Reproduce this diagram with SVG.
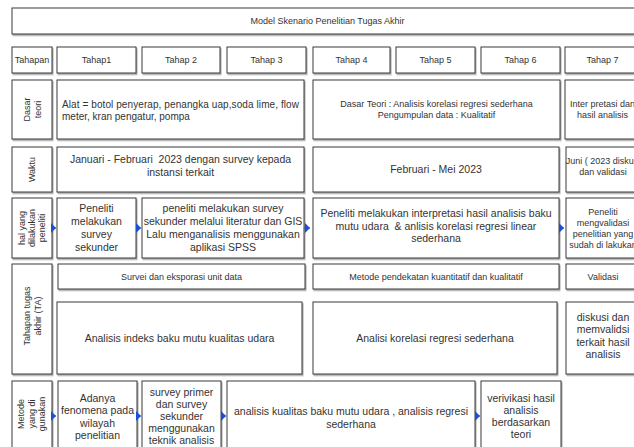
<svg xmlns="http://www.w3.org/2000/svg" width="634" height="447" viewBox="0 0 634 447">
<defs>
<filter id="sh" x="-5%" y="-5%" width="110%" height="115%">
<feDropShadow dx="1" dy="1.5" stdDeviation="0.6" flood-color="#000" flood-opacity="0.35"/>
</filter>
<marker id="ah" markerUnits="userSpaceOnUse" markerWidth="6" markerHeight="10" refX="5" refY="5" orient="auto" viewBox="0 0 6 10">
<path d="M0,0 L5,5 L0,10 Z" fill="#1a4fd6"/>
</marker>
</defs>
<style>
.b{fill:#fff;stroke:#3a3a3a;stroke-width:1;filter:url(#sh)}
text{font-family:"Liberation Sans",Arial,sans-serif;fill:#333}
.s9{font-size:9px}
.s10{font-size:10px}
.s105{font-size:10.5px}
.m{text-anchor:middle}
.c{fill:none;stroke:#1a4fd6;stroke-width:1}
</style>
<rect width="634" height="447" fill="#fff"/>

<g id="title"><rect class="b" x="12" y="8" width="631" height="26"/><text class="s9 m" x="327.5" y="24">Model Skenario Penelitian Tugas Akhir</text></g>

<g id="h-tahapan"><rect class="b" x="12" y="47" width="40" height="26"/><text class="s9 m" x="32" y="63">Tahapan</text></g>
<g id="h-tahap1"><rect class="b" x="57" y="47" width="79" height="26"/><text class="s9 m" x="96.5" y="63">Tahap1</text></g>
<g id="h-tahap2"><rect class="b" x="142" y="47" width="78" height="26"/><text class="s9 m" x="181" y="63">Tahap 2</text></g>
<g id="h-tahap3"><rect class="b" x="227" y="47" width="79" height="26"/><text class="s9 m" x="266.5" y="63">Tahap 3</text></g>
<g id="h-tahap4"><rect class="b" x="313" y="47" width="77" height="26"/><text class="s9 m" x="351.5" y="63">Tahap 4</text></g>
<g id="h-tahap5"><rect class="b" x="396" y="47" width="79" height="26"/><text class="s9 m" x="435.5" y="63">Tahap 5</text></g>
<g id="h-tahap6"><rect class="b" x="481" y="47" width="79" height="26"/><text class="s9 m" x="520.5" y="63">Tahap 6</text></g>
<g id="h-tahap7"><rect class="b" x="565" y="47" width="75" height="26"/><text class="s9 m" x="602.5" y="63">Tahap 7</text></g>

<g id="l-dasar"><rect class="b" x="12" y="80" width="40" height="59"/><text class="s9 m" transform="translate(32,109.5) rotate(-90)"><tspan x="0" y="-1.8">Dasar</tspan><tspan x="0" y="9.2">teori</tspan></text></g>
<g id="dasar-1"><rect class="b" x="57" y="80" width="247" height="59"/><text class="s10"><tspan x="62" y="107.5" textLength="237" lengthAdjust="spacing">Alat = botol penyerap, penangka uap,soda lime, flow</tspan><tspan x="62" y="119.5">meter, kran pengatur, pompa</tspan></text></g>
<g id="dasar-2"><rect class="b" x="313" y="80" width="247" height="59"/><text class="s9 m"><tspan x="436.5" y="106.5">Dasar Teori : Analisis korelasi regresi sederhana</tspan><tspan x="436.5" y="117.5">Pengumpulan data : Kualitatif</tspan></text></g>
<g id="dasar-3"><rect class="b" x="565" y="80" width="75" height="59"/><text class="s9 m"><tspan x="602.5" y="106.5">Inter pretasi dan</tspan><tspan x="602.5" y="117.5">hasil analisis</tspan></text></g>

<g id="l-waktu"><rect class="b" x="12" y="147" width="40" height="45"/><text class="s9 m" transform="translate(32,169.5) rotate(-90)"><tspan x="0" y="3.2">Waktu</tspan></text></g>
<g id="waktu-1"><rect class="b" x="57" y="147" width="247" height="45"/><text class="s105 m"><tspan x="180.5" y="163" xml:space="preserve">Januari - Februari  2023 dengan survey kepada</tspan><tspan x="180.5" y="176">instansi terkait</tspan></text></g>
<g id="waktu-2"><rect class="b" x="313" y="147" width="246" height="45"/><text class="s105 m" x="436" y="173">Februari - Mei 2023</text></g>
<g id="waktu-3"><rect class="b" x="566" y="147" width="74" height="45"/><text class="s9 m"><tspan x="603" y="164">Juni ( 2023 diskusi</tspan><tspan x="603" y="175">dan validasi</tspan></text></g>

<g id="l-hal"><rect class="b" x="12" y="198" width="40" height="60"/><text class="s9 m" transform="translate(32,228) rotate(-90)"><tspan x="0" y="-6.8">hal yang</tspan><tspan x="0" y="3.2">dilakukan</tspan><tspan x="0" y="13.2">peneliti</tspan></text></g>
<g id="hal-1"><rect class="b" x="57" y="198" width="79" height="60"/><text class="s105 m"><tspan x="96.5" y="211.5">Peneliti</tspan><tspan x="96.5" y="224.5">melakukan</tspan><tspan x="96.5" y="237.5">survey</tspan><tspan x="96.5" y="250.5">sekunder</tspan></text></g>
<g id="hal-2"><rect class="b" x="142" y="198" width="162" height="60"/><text class="s105 m"><tspan x="223" y="211.5">peneliti melakukan survey</tspan><tspan x="223" y="224.5">sekunder melalui literatur dan GIS</tspan><tspan x="223" y="237.5">Lalu menganalisis menggunakan</tspan><tspan x="223" y="250.5">aplikasi SPSS</tspan></text></g>
<g id="hal-3"><rect class="b" x="313" y="198" width="246" height="60"/><text class="s105 m"><tspan x="436" y="216.5">Peneliti melakukan interpretasi hasil analisis baku</tspan><tspan x="436" y="229.5" xml:space="preserve">mutu udara  &amp; anlisis korelasi regresi linear</tspan><tspan x="436" y="242">sederhana</tspan></text></g>
<g id="hal-4"><rect class="b" x="566" y="198" width="74" height="60"/><text class="s9 m"><tspan x="603" y="214.5">Peneliti</tspan><tspan x="603" y="225.5">mengvalidasi</tspan><tspan x="603" y="236.5">penelitian yang</tspan><tspan x="603" y="247.5">sudah di lakukan</tspan></text></g>

<g id="l-ta"><rect class="b" x="12" y="264" width="40" height="110"/><text class="s9 m" transform="translate(32,316) rotate(-90)"><tspan x="0" y="-2.5">Tahapan tugas</tspan><tspan x="0" y="8.5">akhir (TA)</tspan></text></g>
<g id="ta-s1"><rect class="b" x="58" y="264" width="247" height="25"/><text class="s9 m" x="181.5" y="280">Survei dan eksporasi unit data</text></g>
<g id="ta-s2"><rect class="b" x="313" y="264" width="246" height="25"/><text class="s9 m" x="436" y="280">Metode pendekatan kuantitatif dan kualitatif</text></g>
<g id="ta-s3"><rect class="b" x="566" y="264" width="74" height="25"/><text class="s9 m" x="603" y="280">Validasi</text></g>
<g id="ta-b1"><rect class="b" x="57" y="302" width="245" height="72"/><text class="s105 m" x="179.5" y="341.5">Analisis indeks baku mutu kualitas udara</text></g>
<g id="ta-b2"><rect class="b" x="313" y="302" width="244" height="72"/><text class="s105 m" x="435" y="341.5">Analisi korelasi regresi sederhana</text></g>
<g id="ta-b3"><rect class="b" x="566" y="302" width="74" height="72"/><text class="s105 m"><tspan x="603" y="320.5">diskusi dan</tspan><tspan x="603" y="333">memvalidsi</tspan><tspan x="603" y="345.5">terkait hasil</tspan><tspan x="603" y="358">analisis</tspan></text></g>

<g id="l-metode"><rect class="b" x="12" y="381" width="40" height="74"/><text class="s9 m" transform="translate(32,414) rotate(-90)"><tspan x="0" y="-8">Metode</tspan><tspan x="0" y="3">yang di</tspan><tspan x="0" y="13">gunakan</tspan></text></g>
<g id="met-1"><rect class="b" x="58" y="381" width="79" height="74"/><text class="s105 m"><tspan x="97.5" y="401.5">Adanya</tspan><tspan x="97.5" y="414">fenomena pada</tspan><tspan x="97.5" y="426.5">wilayah</tspan><tspan x="97.5" y="439">penelitian</tspan></text></g>
<g id="met-2"><rect class="b" x="142" y="381" width="79" height="74"/><text class="s105 m"><tspan x="181.5" y="395.5">survey primer</tspan><tspan x="181.5" y="407.5">dan survey</tspan><tspan x="181.5" y="419.5">sekunder</tspan><tspan x="181.5" y="431.5">menggunakan</tspan><tspan x="181.5" y="443.5">teknik analisis</tspan></text></g>
<g id="met-3"><rect class="b" x="227" y="381" width="248" height="74"/><text class="s105 m"><tspan x="351" y="415">analisis kualitas baku mutu udara , analisis regresi</tspan><tspan x="351" y="427.5">sederhana</tspan></text></g>
<g id="met-4"><rect class="b" x="481" y="381" width="80" height="74"/><text class="s105 m"><tspan x="521" y="402">verivikasi hasil</tspan><tspan x="521" y="414">analisis</tspan><tspan x="521" y="426">berdasarkan</tspan><tspan x="521" y="438">teori</tspan></text></g>

<g id="connectors">
<path class="c" d="M52,228 L56,228" marker-end="url(#ah)"/>
<path class="c" d="M136,228 L141,228" marker-end="url(#ah)"/>
<path class="c" d="M304,228 L310,228" marker-end="url(#ah)"/>
<path class="c" d="M559,228 L564,228" marker-end="url(#ah)"/>
<path class="c" d="M52,416 L56,416" marker-end="url(#ah)"/>
<path class="c" d="M137,416 L141,416" marker-end="url(#ah)"/>
<path class="c" d="M221,416 L226,416" marker-end="url(#ah)"/>
<path class="c" d="M475,416 L480,416" marker-end="url(#ah)"/>
</g>
</svg>
